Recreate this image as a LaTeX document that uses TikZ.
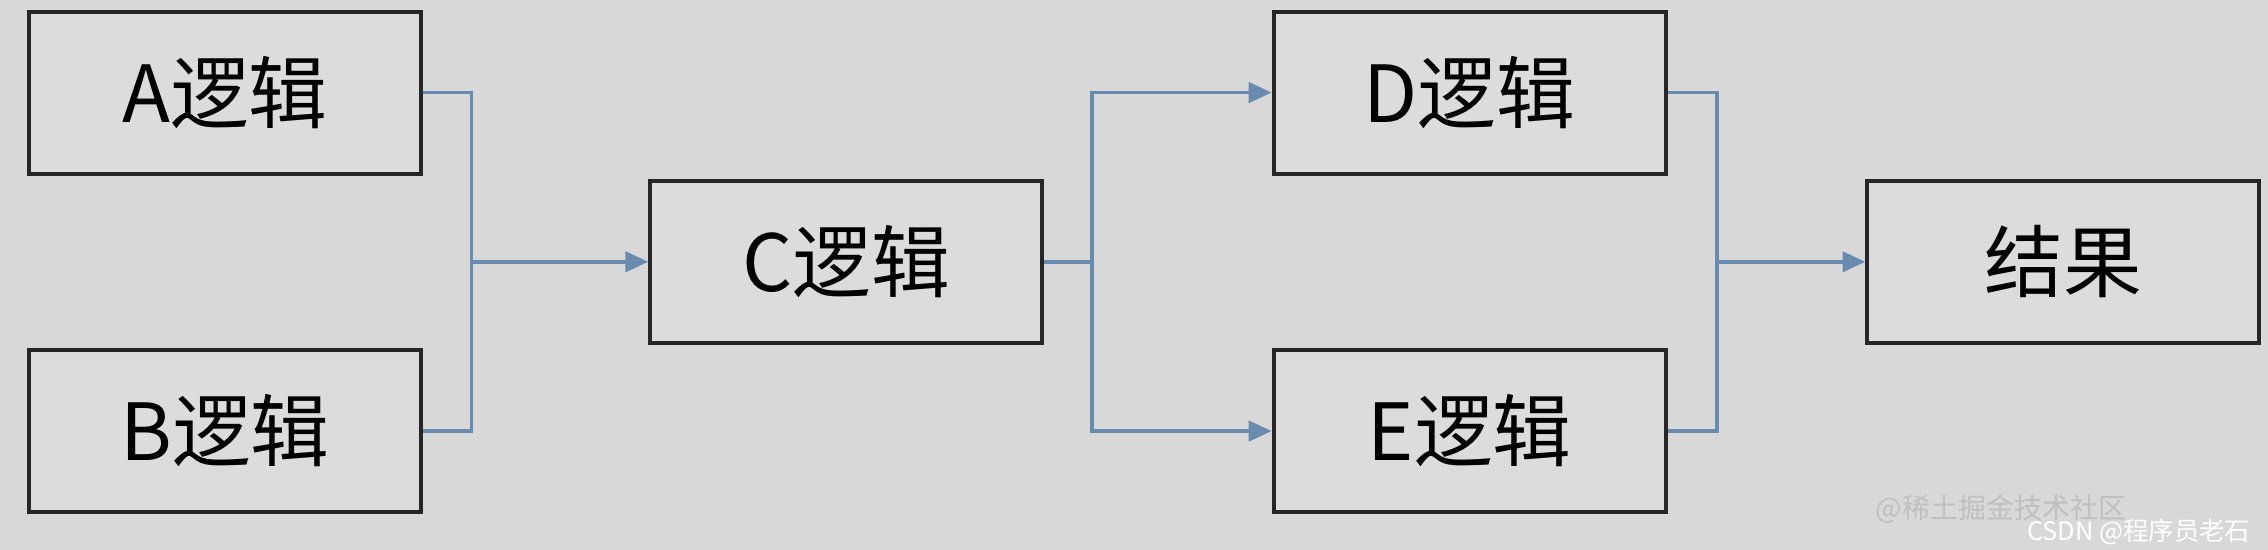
\documentclass[tikz,border=0pt]{standalone}
\usepackage{fontspec}
\setmainfont{Noto Sans CJK SC}
\usetikzlibrary{arrows.meta}
\definecolor{bg}{HTML}{D8D8D8}
\definecolor{boxfill}{HTML}{DCDCDC}
\definecolor{link}{HTML}{6A8BB0}
\begin{document}
\begin{tikzpicture}[x=0.02cm,y=-0.02cm,
  blk/.style={draw=black!85,line width=1.6pt,fill=boxfill,minimum width=5.42cm,minimum height=2.24cm,font=\fontsize{31}{34}\selectfont,inner sep=0pt},
  conn/.style={draw=link,line width=1.4pt},
  arr/.style={conn,-{Triangle[length=9pt,width=8pt]}}]
\fill[bg] (0,0) rectangle (1568,380);
\useasboundingbox (0,0) rectangle (1568,380);
\node[blk] (A) at (155.5,64) {A逻辑};
\node[blk] (B) at (155.5,298) {B逻辑};
\node[blk] (C) at (585,181) {C逻辑};
\node[blk] (D) at (1016,64) {D逻辑};
\node[blk] (E) at (1016,298) {E逻辑};
\node[blk] (R) at (1426.5,181) {结果};
\coordinate (j1) at (326,181);
\coordinate (j2) at (755,181);
\coordinate (j3) at (1187,181);
\draw[conn] (A.east) -| (j1);
\draw[conn] (B.east) -| (j1);
\draw[arr] (j1) -- (C.west);
\draw[conn] (C.east) -- (j2);
\draw[arr] (j2) |- (D.west);
\draw[arr] (j2) |- (E.west);
\draw[conn] (D.east) -| (j3);
\draw[conn] (E.east) -| (j3);
\draw[arr] (j3) -- (R.west);
\node[text=black!25,font=\fontsize{11}{12}\selectfont,anchor=east] (w1) at (1476,352) {@稀土掘金技术社区};
\node[text=white,font=\fontsize{10}{12}\selectfont,anchor=east] (w2) at (1562,368) {CSDN @程序员老石};
\end{tikzpicture}
\end{document}
